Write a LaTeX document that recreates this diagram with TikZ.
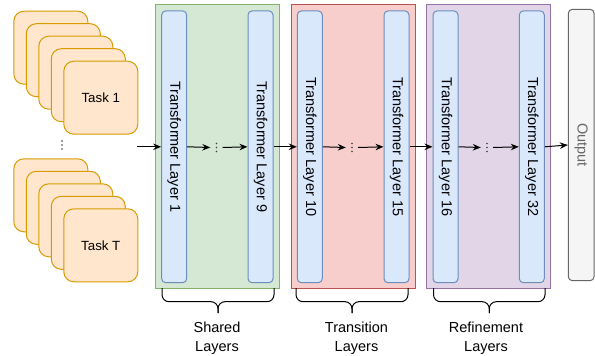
\documentclass[tikz,border=0pt]{standalone}
\usepackage{fontspec}
\setmainfont{Liberation Sans}
\usetikzlibrary{arrows.meta}

\definecolor{cardfill}{HTML}{FFE6CC}
\definecolor{cardline}{HTML}{D79B00}
\definecolor{greenfill}{HTML}{D5E8D4}
\definecolor{greenline}{HTML}{82B366}
\definecolor{redfill}{HTML}{F8CECC}
\definecolor{redline}{HTML}{B85450}
\definecolor{purplefill}{HTML}{E1D5E7}
\definecolor{purpleline}{HTML}{9673A6}
\definecolor{bluefill}{HTML}{DAE8FC}
\definecolor{blueline}{HTML}{6C8EBF}
\definecolor{grayfill}{HTML}{F5F5F5}
\definecolor{grayline}{HTML}{666666}

\tikzset{
  card/.style={draw=cardline, fill=cardfill, line width=1pt, rounded corners=10pt,
    minimum width=74pt, minimum height=73pt, anchor=north west, inner sep=0pt,
    font=\fontsize{13.3}{16}\selectfont},
  groupbox/.style={line width=1pt, inner sep=0pt},
  layerbox/.style={draw=blueline, fill=bluefill, line width=1pt, rounded corners=4pt,
    minimum width=25pt, minimum height=271.7pt, inner sep=0pt},
  layertext/.style={rotate=-90, font=\fontsize{14.5}{17}\selectfont},
  flow/.style={-{Stealth[length=8pt,width=6.5pt]}, line width=1pt},
  dotsbox/.style={minimum width=12pt, minimum height=12pt, inner sep=0pt,
    path picture={\foreach \i in {-1,0,1}
      \fill[black!75] (path picture bounding box.center) ++(0pt,\i*4pt) circle (0.8pt);}},
  brace/.style={line width=1pt, rounded corners=7pt},
  grouplabel/.style={align=center, font=\fontsize{14.5}{19}\selectfont}
}

\begin{document}
\begin{tikzpicture}[x=1pt, y=-1pt]
  \useasboundingbox (0,0) rectangle (595,356);

  % stacks of task cards
  \foreach \k in {0,...,3} {
    \node[card] (ta\k) at (13.3+12.5*\k, 10.7+12.5*\k) {};
    \node[card] (tb\k) at (13.3+12.5*\k, 158.3+12.5*\k) {};
  }
  \node[card] (task1) at (63.3, 60.7) {Task 1};
  \node[card] (taskT) at (63.3, 208.3) {Task T};
  \node[dotsbox] (tdots) at (62, 145) {};

  % layer groups
  \node[groupbox, draw=greenline, fill=greenfill, minimum width=123.3pt, minimum height=283.7pt]
    (shared) at (217.35, 146.15) {};
  \node[groupbox, draw=redline, fill=redfill, minimum width=124pt, minimum height=283.7pt]
    (transition) at (353, 146.15) {};
  \node[groupbox, draw=purpleline, fill=purplefill, minimum width=124pt, minimum height=283.7pt]
    (refinement) at (488.7, 146.15) {};

  % transformer layers
  \node[layerbox, label={[layertext]center:Transformer Layer 1}]  (l1)  at (174.2, 146.8) {};
  \node[layerbox, label={[layertext]center:Transformer Layer 9}]  (l9)  at (260.5, 146.8) {};
  \node[layerbox, label={[layertext]center:Transformer Layer 10}] (l10) at (309.8, 146.8) {};
  \node[layerbox, label={[layertext]center:Transformer Layer 15}] (l15) at (396.5, 146.8) {};
  \node[layerbox, label={[layertext]center:Transformer Layer 16}] (l16) at (445.5, 146.8) {};
  \node[layerbox, label={[layertext]center:Transformer Layer 32}] (l32) at (531.8, 146.8) {};

  % output
  \node[draw=grayline, fill=grayfill, line width=1pt, rounded corners=4pt,
        minimum width=25.7pt, minimum height=271.4pt, inner sep=0pt,
        label={[layertext, text=black!60]center:Output}] (out) at (581.2, 145) {};

  % skipped layers
  \node[dotsbox] (d1) at (216.5, 147.5) {};
  \node[dotsbox] (d2) at (352, 147.5) {};
  \node[dotsbox] (d3) at (487, 147.5) {};

  % data flow
  \coordinate (in) at (137, 146.8);
  \draw[flow] (in) -- (l1.west);
  \draw[flow] (l1.east) -- (d1.west);
  \draw[flow] (d1.east) -- (l9.west);
  \draw[flow] (l9.east) -- (l10.west);
  \draw[flow] (l10.east) -- (d2.west);
  \draw[flow] (d2.east) -- (l15.west);
  \draw[flow] (l15.east) -- (l16.west);
  \draw[flow] (l16.east) -- (d3.west);
  \draw[flow] (d3.east) -- (l32.west);
  \draw[flow] (l32.east) -- (out.west);

  % braces under the groups
  \foreach \l/\r in {162/274, 296/408, 433.5/545} {
    \pgfmathsetmacro{\m}{(\l+\r)/2}
    \draw[brace] (\l,288) -- (\l,301.7) -- (\m,301.7) -- (\m,313);
    \draw[brace] (\r,288) -- (\r,301.7) -- (\m,301.7) -- (\m,313);
  }

  % group labels
  \node[grouplabel] (lshared) at (217, 338.5) {Shared\\Layers};
  \node[grouplabel] (ltransition) at (356.5, 338.5) {Transition\\Layers};
  \node[grouplabel] (lrefinement) at (486, 338.5) {Refinement\\Layers};
\end{tikzpicture}
\end{document}
